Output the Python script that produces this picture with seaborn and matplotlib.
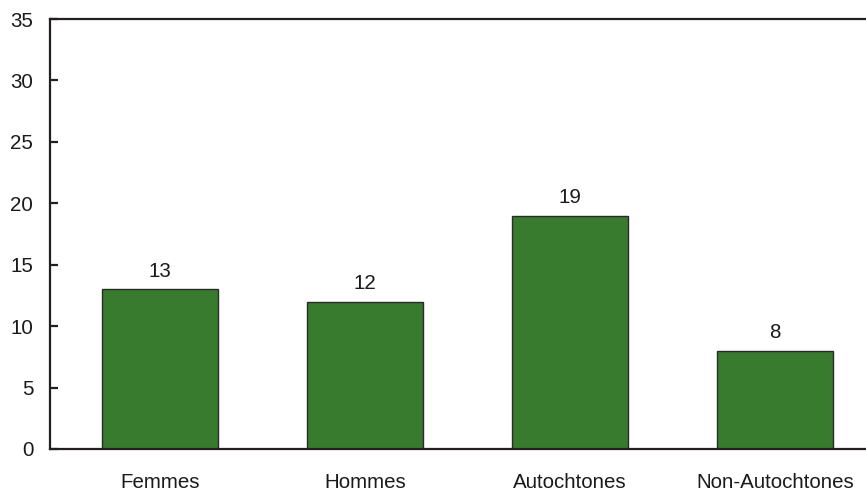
import matplotlib
matplotlib.use("Agg")
import matplotlib.pyplot as plt
import seaborn as sns
import pandas as pd

categories = ["Femmes", "Hommes", "Autochtones", "Non-Autochtones"]
values = [13, 12, 19, 8]
yticks = [0, 5, 10, 15, 20, 25, 30, 35]

sns.set_theme(style="white")
plt.rcParams["font.family"] = ["Liberation Sans", "DejaVu Sans"]

df = pd.DataFrame({"cat": categories, "val": values})

fig = plt.figure(figsize=(8.66, 4.91), dpi=100)
ax = fig.add_axes([50/866, 1-449/491, 1-50/866, (449-19)/491])

sns.barplot(data=df, x="cat", y="val", color="#387a2e", saturation=1,
            width=0.563, edgecolor="#2a2a2a", linewidth=1.0, ax=ax)

for i, v in enumerate(values):
    ax.annotate(str(v), (i, v), xytext=(0, 6), textcoords="offset points",
                ha="center", va="bottom", fontsize=14.8, color="#1a1a1a")

ax.set_xlim(-0.537, 3.444)
ax.set_ylim(0, 35)
ax.set_yticks(yticks)
ax.set_yticklabels([str(t) for t in yticks])
ax.set_xlabel("")
ax.set_ylabel("")

for s in ["left", "bottom", "top"]:
    ax.spines[s].set_visible(True)
    ax.spines[s].set_color("#231f20")
    ax.spines[s].set_linewidth(1.6)
ax.spines["right"].set_visible(False)

ax.tick_params(axis="y", direction="in", length=6, width=1.6, color="#231f20",
               labelsize=14.8, pad=12, labelcolor="#1a1a1a", left=True)
ax.tick_params(axis="x", length=0, labelsize=14.8, pad=17, labelcolor="#1a1a1a")

fig.savefig("out.png", dpi=100)
